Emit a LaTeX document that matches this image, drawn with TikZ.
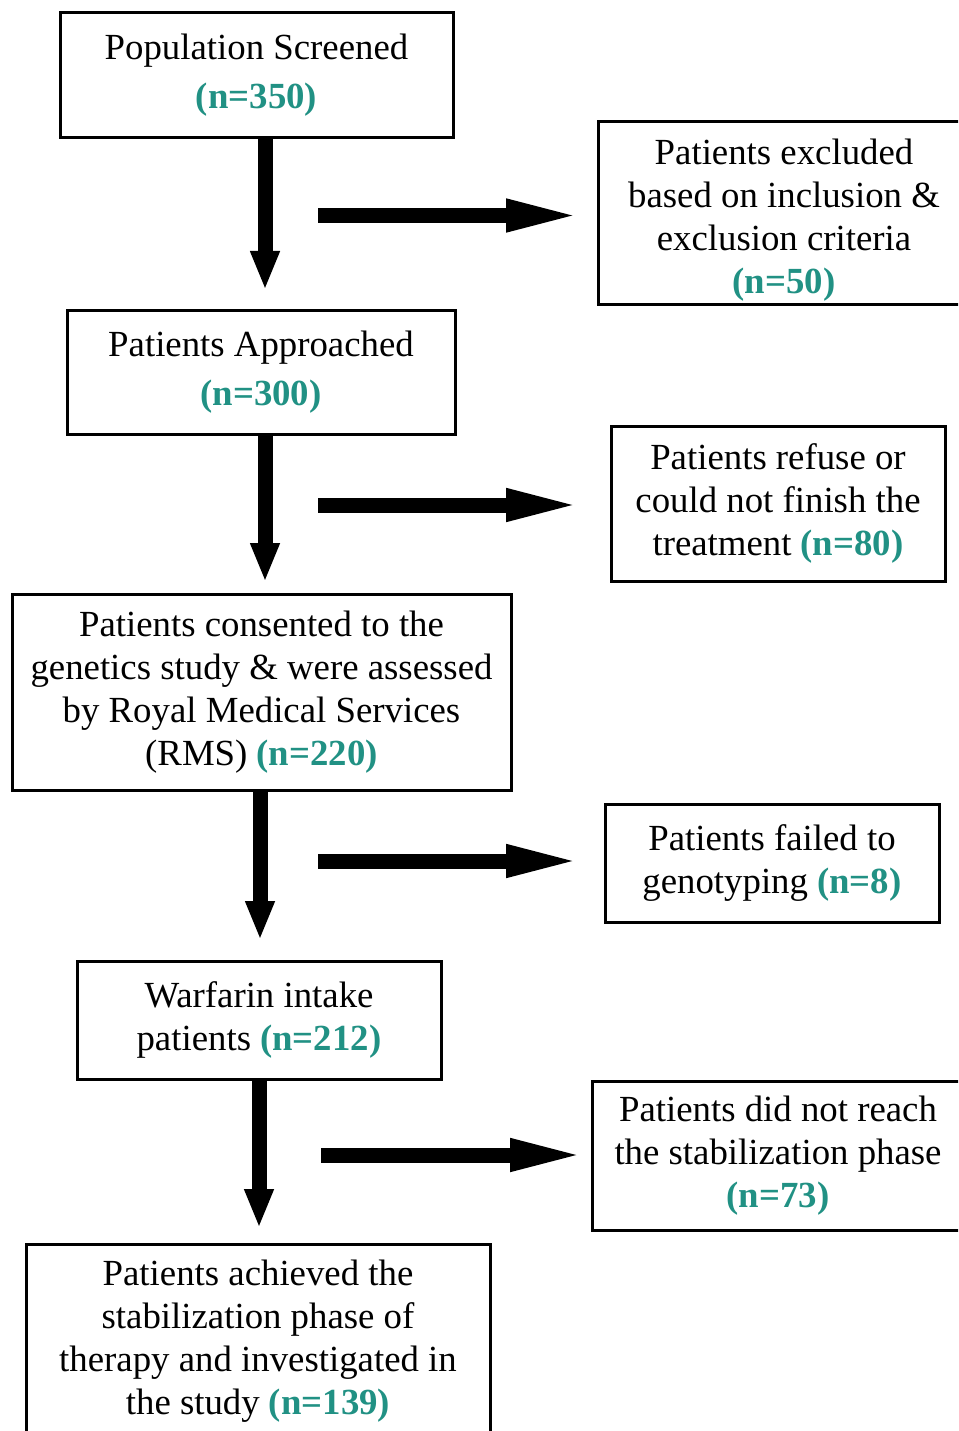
\documentclass[tikz,border=0pt]{standalone}
\usepackage{fontspec}
\setmainfont{Liberation Serif}
\usetikzlibrary{arrows.meta}
\definecolor{teal2}{RGB}{33,145,132}
\newcommand{\nn}[1]{\textcolor{teal2}{\textbf{#1}}}
\tikzset{
  box/.style={draw=black, line width=3pt, align=center, inner sep=0pt,
    font=\fontsize{36.8}{42.8}\selectfont},
  downarrow/.style={line width=15pt, -{Triangle[length=39pt,width=27pt]}},
  sidearrow/.style={line width=15pt, -{Triangle[length=77pt,width=29pt]}},
}
\begin{document}
\begin{tikzpicture}[x=1pt,y=-1pt]
\useasboundingbox (0,0) rectangle (958,1431);
\clip (0,0) rectangle (958,1431);
\fill[white] (0,0) rectangle (958,1431);
% main column
\node[box, minimum width=393pt, minimum height=125pt] (b1) at (256.5,75.5) {Population Screened\\[6pt]\nn{(n=350)}};
\node[box, minimum width=388pt, minimum height=124pt] (b2) at (261,372) {Patients Approached\\[6pt]\nn{(n=300)}};
\node[box, minimum width=499pt, minimum height=196pt] (b3) at (261.5,692) {Patients consented to the\\genetics study \& were assessed\\by Royal Medical Services\\(RMS) \nn{(n=220)}};
\node[box, minimum width=364pt, minimum height=118pt] (b4) at (259,1020) {Warfarin intake\\patients \nn{(n=212)}};
\node[box, minimum width=464pt, minimum height=194pt] (b5) at (258,1341) {Patients achieved the\\stabilization phase of\\therapy and investigated in\\the study \nn{(n=139)}};
% side boxes
\node[box, minimum width=372pt, minimum height=182pt] (r1) at (784,213) {\rule{0pt}{40pt}Patients excluded\\based on inclusion \&\\exclusion criteria\\\nn{(n=50)}};
\node[box, minimum width=334pt, minimum height=155pt] (r2) at (778,503.5) {Patients refuse or\\could not finish the\\treatment \nn{(n=80)}};
\node[box, minimum width=334pt, minimum height=118pt] (r3) at (772,863) {Patients failed to\\genotyping \nn{(n=8)}};
\node[box, minimum width=372pt, minimum height=149pt] (r4) at (778,1155.5) {Patients did not reach\\the stabilization phase\\\nn{(n=73)}};
% arrow ends
\coordinate (d1) at (265,290);
\coordinate (d2) at (265,582);
\coordinate (d3) at (260,940);
\coordinate (d4) at (259,1228);
\coordinate (h1s) at (318,215.5);
\coordinate (h1e) at (583,215.5);
\coordinate (h2s) at (318,505);
\coordinate (h2e) at (583,505);
\coordinate (h3s) at (318,861);
\coordinate (h3e) at (583,861);
\coordinate (h4s) at (321,1155);
\coordinate (h4e) at (587,1155);
\draw[downarrow] (b1.south -| d1) -- (d1);
\draw[downarrow] (b2.south -| d2) -- (d2);
\draw[downarrow] (b3.south -| d3) -- (d3);
\draw[downarrow] (b4.south -| d4) -- (d4);
\draw[sidearrow] (h1s) -- (h1e);
\draw[sidearrow] (h2s) -- (h2e);
\draw[sidearrow] (h3s) -- (h3e);
\draw[sidearrow] (h4s) -- (h4e);
\end{tikzpicture}
\end{document}
